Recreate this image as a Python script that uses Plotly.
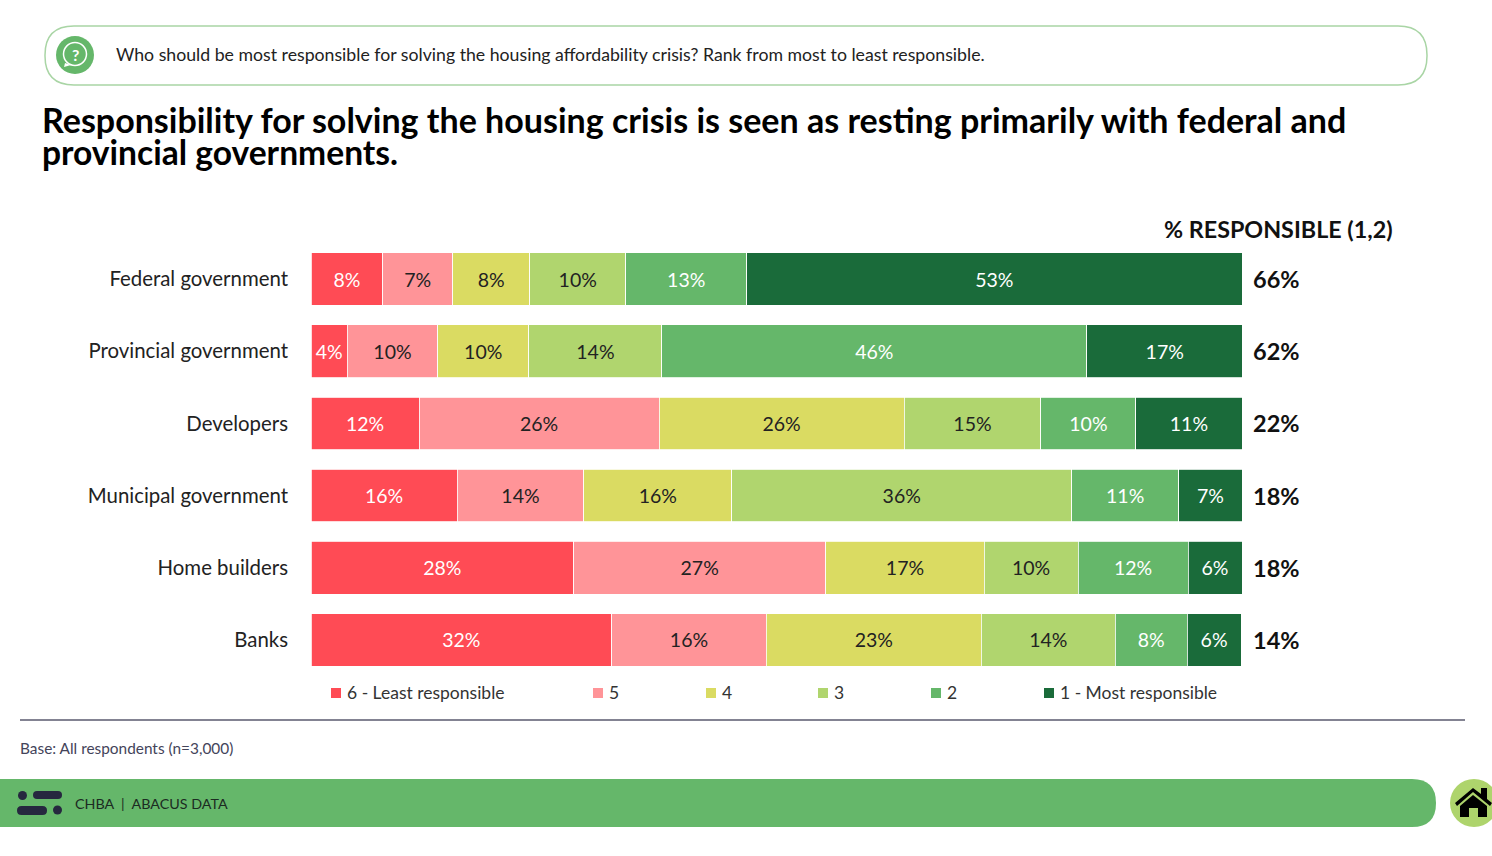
import plotly.graph_objects as go

W, H = 1492, 856
X0, X1, Y0, Y1 = 311, 1242, 243, 676

categories = ["Federal government", "Provincial government", "Developers",
              "Municipal government", "Home builders", "Banks"]
series_names = ["6 - Least responsible", "5", "4", "3", "2", "1 - Most responsible"]
least_6 = [7.7, 3.9, 11.6, 15.7, 28.2, 32.3]
rank_5 = [7.5, 9.7, 25.8, 13.6, 27.1, 16.6]
rank_4 = [8.3, 9.8, 26.3, 15.9, 17.0, 23.1]
rank_3 = [10.3, 14.3, 14.7, 36.5, 10.1, 14.4]
rank_2 = [13.0, 45.6, 10.2, 11.5, 11.8, 7.7]
most_1 = [53.2, 16.8, 11.4, 6.8, 5.8, 5.8]
labels_6 = ["8%", "4%", "12%", "16%", "28%", "32%"]
labels_5 = ["7%", "10%", "26%", "14%", "27%", "16%"]
labels_4 = ["8%", "10%", "26%", "16%", "17%", "23%"]
labels_3 = ["10%", "14%", "15%", "36%", "10%", "14%"]
labels_2 = ["13%", "46%", "10%", "11%", "12%", "8%"]
labels_1 = ["53%", "17%", "11%", "7%", "6%", "6%"]
totals = ["66%", "62%", "22%", "18%", "18%", "14%"]
colors = ["#ff4b55", "#ff9498", "#dadb62", "#b0d56e", "#65b76a", "#1a6b3a"]
text_colors = ["white", "#222222", "#222222", "#222222", "white", "white"]
legend_x = [331, 593, 706, 818, 931, 1044]

FONT = "Lato"
INK = "#222222"


def px(x):
    return (x - X0) / (X1 - X0)


def py(y):
    return 1 - (y - Y0) / (Y1 - Y0)


def path(points):
    return " ".join(points)


def rounded(x0, y0, x1, y1, r, left=True):
    p = []
    if left:
        p.append(f"M {px(x0 + r)} {py(y0)}")
    else:
        p.append(f"M {px(x0)} {py(y0)}")
    p.append(f"L {px(x1 - r)} {py(y0)}")
    p.append(f"Q {px(x1)} {py(y0)} {px(x1)} {py(y0 + r)}")
    p.append(f"L {px(x1)} {py(y1 - r)}")
    p.append(f"Q {px(x1)} {py(y1)} {px(x1 - r)} {py(y1)}")
    if left:
        p.append(f"L {px(x0 + r)} {py(y1)}")
        p.append(f"Q {px(x0)} {py(y1)} {px(x0)} {py(y1 - r)}")
        p.append(f"L {px(x0)} {py(y0 + r)}")
        p.append(f"Q {px(x0)} {py(y0)} {px(x0 + r)} {py(y0)} Z")
    else:
        p.append(f"L {px(x0)} {py(y1)} Z")
    return path(p)


def poly(pts):
    return "M " + " L ".join(f"{px(a)} {py(b)}" for a, b in pts) + " Z"


def shape_path(d, fill, line="rgba(0,0,0,0)", width=0):
    return dict(type="path", xref="paper", yref="paper", path=d, fillcolor=fill,
                line=dict(color=line, width=width), layer="above")


def oval(cx, cy, r, fill, line="rgba(0,0,0,0)", width=0):
    return dict(type="circle", xref="paper", yref="paper", x0=px(cx - r), x1=px(cx + r),
                y0=py(cy + r), y1=py(cy - r), fillcolor=fill,
                line=dict(color=line, width=width), layer="above")


def note(x, y, text, size, color=INK, bold=False, anchor="left"):
    return dict(xref="paper", yref="paper", x=px(x), y=py(y), text=text, showarrow=False,
                xanchor=anchor, yanchor="middle", borderpad=0,
                font=dict(family=FONT, size=size, color=color, weight=700 if bold else 400))


fig = go.Figure()
all_vals = [least_6, rank_5, rank_4, rank_3, rank_2, most_1]
all_labels = [labels_6, labels_5, labels_4, labels_3, labels_2, labels_1]
for name, vals, labs, col, tc in zip(series_names, all_vals, all_labels, colors, text_colors):
    fig.add_trace(go.Bar(
        y=categories, x=vals, name=name, orientation="h", text=labs,
        textposition="inside", insidetextanchor="middle", textangle=0, constraintext="none",
        insidetextfont=dict(family=FONT, size=19.5, color=tc),
        marker=dict(color=col, line=dict(color="white", width=0.8)),
        showlegend=False, hoverinfo="name+x+y",
    ))

shapes = [
    shape_path(rounded(45, 26, 1427, 85, 29), "rgba(0,0,0,0)", "#a9d5a5", 1.5),
    oval(75, 55, 19, "#65b76a"),
    oval(75, 54, 11.5, "rgba(0,0,0,0)", "white", 1.5),
    shape_path(poly([(65, 63), (64, 67), (71, 65)]), "white"),
    dict(type="line", xref="paper", yref="paper", x0=px(20), x1=px(1465), y0=py(720), y1=py(720),
         line=dict(color="#5a5a6e", width=1.5), layer="above"),
    shape_path(rounded(-40, 779, 1436, 827, 24, left=False), "#65b76a"),
    oval(1474, 803, 24, "#aed46c"),
    # home icon
    shape_path(poly([(1455, 803), (1473, 788), (1481, 794), (1481, 788), (1487, 788), (1487, 799), (1492, 803),
                     (1490, 806), (1473, 792), (1457, 806)]), "#000000"),
    shape_path(poly([(1460, 806), (1473, 795), (1487, 806), (1487, 817), (1478, 817), (1478, 808), (1469, 808),
                     (1469, 817), (1460, 817)]), "#000000"),
    # logo
    oval(22.5, 795.5, 4.5, "#26283f"),
    shape_path(rounded(33, 791, 62, 799, 4), "#26283f"),
    shape_path(rounded(17, 806, 47, 815, 4.5), "#26283f"),
    oval(57.5, 810, 4.5, "#26283f"),
]
for lx, col in zip(legend_x, colors):
    shapes.append(dict(type="rect", xref="paper", yref="paper", x0=px(lx), x1=px(lx + 10),
                       y0=py(698), y1=py(688), fillcolor=col, line=dict(width=0), layer="above"))

annotations = [
    note(115, 55, "Who should be most responsible for solving the housing affordability crisis? "
                  "Rank from most to least responsible.", 17.7),
    note(75, 54, "?", 16, "white", True, "center"),
    note(41, 152, "provincial governments.", 33.6, "#000000", True),
    note(1163, 229, "% RESPONSIBLE (1,2)", 23.3, "#111111", True),
    note(19, 748, "Base: All respondents (n=3,000)", 15.4, "#44445a"),
    note(74, 803, "CHBA  |  ABACUS DATA", 14.3, "#1c2b22"),
]
for lx, name in zip(legend_x, series_names):
    annotations.append(note(lx + 15, 692, name, 17.5, "#333333"))
for cat, total in zip(categories, totals):
    annotations.append(dict(xref="x", yref="y", x=100, y=cat, text=total, showarrow=False,
                            xanchor="left", yanchor="middle", xshift=9,
                            font=dict(family=FONT, size=23.5, color="#111111", weight=700)))

fig.update_layout(
    width=W, height=H, autosize=False,
    margin=dict(l=X0, r=W - X1, t=Y0, b=H - Y1, pad=0),
    paper_bgcolor="white", plot_bgcolor="white",
    barmode="stack", bargap=0.27, showlegend=False,
    title=dict(text="Responsibility for solving the housing crisis is seen as resting primarily with federal and",
               xref="container", yref="container", x=42 / W, xanchor="left", y=1 - 121 / H, yanchor="middle",
               pad=dict(l=0, r=0, t=0, b=0),
               font=dict(family=FONT, size=34, color="#000000", weight=700)),
    font=dict(family=FONT, color=INK),
    shapes=shapes, annotations=annotations,
    xaxis=dict(range=[0, 100], visible=False, fixedrange=True),
    yaxis=dict(autorange="reversed", showgrid=False, showline=False, zeroline=False,
               ticks="", ticklabelstandoff=22, automargin=False,
               tickfont=dict(family=FONT, size=20.4, color=INK)),
)
fig.write_html("out.html", config={"displayModeBar": False, "responsive": False},
               post_script="document.body.style.margin='0';document.body.style.overflow='hidden';")
